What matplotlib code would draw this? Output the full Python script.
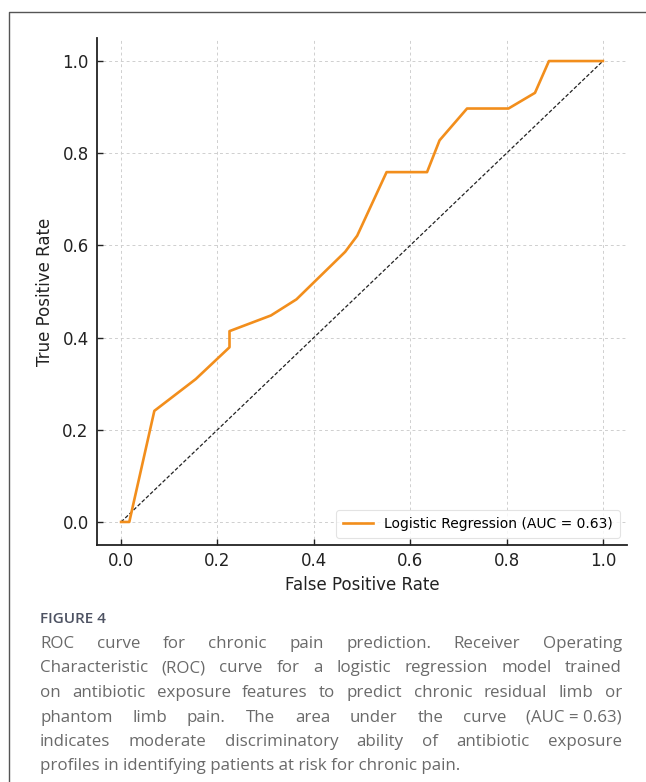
import matplotlib
matplotlib.use('Agg')
import matplotlib.pyplot as plt
from matplotlib.lines import Line2D

#                   Data

fpr = [0.0, 0.017, 0.069, 0.155, 0.225, 0.225, 0.311, 0.364, 0.465, 0.490,
       0.551, 0.635, 0.661, 0.718, 0.804, 0.859, 0.888, 1.0]
tpr = [0.0, 0.0, 0.241, 0.310, 0.379, 0.414, 0.448, 0.483, 0.586, 0.621,
       0.759, 0.759, 0.828, 0.897, 0.897, 0.931, 1.0, 1.0]
chance = [0.0, 1.0]
auc_label = 'Logistic Regression (AUC = 0.63)'
ticks = [0.0, 0.2, 0.4, 0.6, 0.8, 1.0]

fig_title = 'FIGURE 4'
caption_lines = [
    'ROC curve for chronic pain prediction. Receiver Operating',
    'Characteristic (ROC) curve for a logistic regression model trained',
    'on antibiotic exposure features to predict chronic residual limb or',
    'phantom limb pain. The area under the curve (AUC\u00a0=\u00a00.63)',
    'indicates moderate discriminatory ability of antibiotic exposure',
    'profiles in identifying patients at risk for chronic pain.',
]

W, H = 646, 782

#                   Plot

fig = plt.figure(figsize=(W / 100, H / 100), dpi=100)
ax = fig.add_axes([97 / W, 1 - 545 / H, 530 / W, 507 / H])

ax.plot(fpr, tpr, color='#f28e1c', lw=1.9, label=auc_label, zorder=3)
ax.plot(chance, chance, color='#222222', lw=0.9, linestyle=(0, (3, 1.6)), zorder=2)

ax.set_xlim(-0.05, 1.05)
ax.set_ylim(-0.05, 1.05)
ax.set_xticks(ticks)
ax.set_yticks(ticks)
ax.tick_params(direction='in', length=4, width=1, labelsize=12, colors='#222222')
ax.tick_params(axis='y', pad=6)
ax.tick_params(axis='x', pad=5)
ax.grid(True, color='#cfcfcf', linestyle=(0, (3, 3)), lw=0.7)
ax.set_axisbelow(True)
for side in ['top', 'right']:
    ax.spines[side].set_visible(False)
for side in ['left', 'bottom']:
    ax.spines[side].set_linewidth(1.3)
    ax.spines[side].set_color('#222222')

ax.set_xlabel('False Positive Rate', fontsize=12, labelpad=4, color='#222222')
ax.set_ylabel('True Positive Rate', fontsize=12, labelpad=6, color='#222222')
leg = ax.legend(loc='lower right', fontsize=10, frameon=True, fancybox=True,
                borderpad=0.5, handlelength=2.2, borderaxespad=0.5)
leg.get_frame().set_edgecolor('#dddddd')
leg.get_frame().set_linewidth(0.8)

# card border
fig.add_artist(Line2D([9 / W, 9 / W, 1.0], [0.0, 1 - 12 / H, 1 - 12 / H],
                      transform=fig.transFigure, color='#555555', lw=1.0))

# caption, justified
cap_font = ['Open Sans', 'DejaVu Sans']
cap_size = 12.2
cap_color = '#6a6a6a'
fig.text(40 / W, 1 - 623 / H, fig_title, fontsize=11, fontweight='semibold',
         family=cap_font, color='#4d5262', va='baseline')

fig.canvas.draw()
r = fig.canvas.get_renderer()

def word_width(s):
    t = fig.text(0, 0, s, fontsize=cap_size, family=cap_font)
    w = t.get_window_extent(r).width
    t.remove()
    return w

x0, x1 = 40, 622
for i, line in enumerate(caption_lines):
    y = 1 - (648 + 24.5 * i) / H
    if i == len(caption_lines) - 1:
        fig.text(x0 / W, y, line, fontsize=cap_size, family=cap_font,
                 color=cap_color, va='baseline')
        print('last line width', word_width(line))
        continue
    words = line.split(' ')
    widths = [word_width(w) for w in words]
    gap = (x1 - x0 - sum(widths)) / (len(words) - 1)
    x = x0
    for w, wd in zip(words, widths):
        fig.text(x / W, y, w, fontsize=cap_size, family=cap_font,
                 color=cap_color, va='baseline')
        x += wd + gap

fig.savefig('out.png', dpi=100)
